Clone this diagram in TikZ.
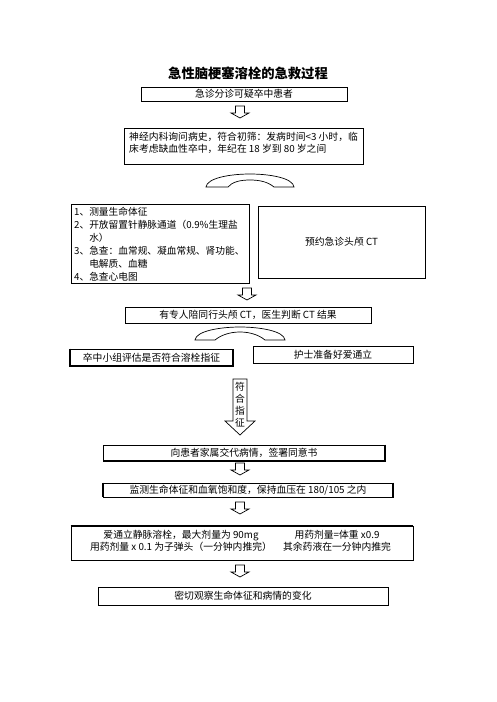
\documentclass[tikz,border=0pt]{standalone}
\usepackage{fontspec}
\setmainfont{Noto Sans CJK SC}
\usepackage{tikz}

\begin{document}
\begin{tikzpicture}[x=1pt,y=-1pt,
  box/.style={draw,line width=0.7pt,inner sep=0pt,font=\fontsize{9.8}{12}\selectfont},
  txt/.style={inner sep=0pt,font=\fontsize{9.8}{12}\selectfont},
  heavy/.style={line width=1.8pt},
  hollow arrow/.pic={\draw[line width=0.7pt] (-4.5,0) -- (4.5,0) -- (4.5,7) -- (9,7) -- (0,12) -- (-9,7) -- (-4.5,7) -- cycle;},
  arch/.style={draw,line width=0.7pt}]
\useasboundingbox (0,0) rectangle (496,702);

\node[font=\fontsize{13.3}{15}\selectfont\bfseries] (title) at (248,73) {急性脑梗塞溶栓的急救过程};

\node[box,minimum width=206,minimum height=14] (b1) at (244,94) {急诊分诊可疑卒中患者};
\pic at (240,106) {hollow arrow};

\node[box,minimum width=239,minimum height=36] (b2) at (243.5,146) {};
\node[txt,anchor=north west,align=left] (t2) at (129,132) {神经内科询问病史，符合初筛：发病时间<3 小时，临\\床考虑缺血性卒中，年纪在 18 岁到 80 岁之间};

% arch between the rows
\draw[arch] (206,187) .. controls (207,178) and (230,174) .. (250,174)
  .. controls (270,174) and (293,178) .. (294,187) -- (274,187)
  .. controls (268,182) and (260,180) .. (250,180)
  .. controls (240,180) and (232,182) .. (228,187) -- cycle;

\node[box,minimum width=178,minimum height=79] (b3) at (160,243.5) {};
\node[txt,anchor=west,align=left,font=\fontsize{9.7}{13}\selectfont] (t3) at (74,244.5) {1、测量生命体征\\2、开放留置针静脉通道（0.9\%生理盐\\\phantom{2、}水）\\3、急查：血常规、凝血常规、肾功能、\\\phantom{3、}电解质、血糖\\4、急查心电图};
\node[box,minimum width=167,minimum height=72] (b4) at (341.5,242) {预约急诊头颅 CT};
\pic at (247,288) {hollow arrow};

\node[box,minimum width=246,minimum height=16] (b5) at (248,315) {有专人陪同行头颅 CT，医生判断 CT 结果};

\draw[arch] (195,340) .. controls (196,331) and (220,327) .. (240,327)
  .. controls (260,327) and (284,331) .. (285,340) -- (265,340)
  .. controls (259,335) and (250,332) .. (240,332)
  .. controls (230,332) and (221,335) .. (215,340) -- cycle;

\node[box,minimum width=163,minimum height=17] (b6) at (151.5,357.5) {卒中小组评估是否符合溶栓指征};
\draw[heavy] (b6.north west) -- (b6.south west) -- (b6.south east) -- (b6.north east);
\node[box,minimum width=160,minimum height=17] (b7) at (333,354.5) {护士准备好爱通立};

% big arrow with text
\draw[line width=0.7pt] (233,379) -- (247,379) -- (247,421) -- (255,421) -- (240,435) -- (225,421) -- (233,421) -- cycle;
\node[txt,align=center] (t6) at (240,405) {符\\合\\指\\征};

\node[box,minimum width=282,minimum height=16] (b8) at (244,453) {向患者家属交代病情，签署同意书};
\draw[heavy] (b8.north east) -- (b8.south east) -- (b8.south west);
\pic at (240,463) {hollow arrow};

\node[box,minimum width=290,minimum height=14] (b9) at (248,490) {监测生命体征和血氧饱和度，保持血压在 180/105 之内};
\draw[heavy] (b9.north west) -- (b9.south west);
\draw[heavy] (b9.north east) -- (b9.south east);
\pic at (240,502) {hollow arrow};

\node[box,minimum width=342,minimum height=34] (b10) at (242,543) {};
\draw[heavy] (b10.north west) -- (b10.north east);
\node[txt,align=center] (c1) at (181,541) {爱通立静脉溶栓，最大剂量为 90mg\\用药剂量 x 0.1 为子弹头（一分钟内推完）};
\node[txt,align=center] (c2) at (337,541) {用药剂量=体重 x0.9\\其余药液在一分钟内推完};
\pic at (240,565) {hollow arrow};

\node[box,minimum width=290,minimum height=18] (b11) at (243,596) {密切观察生命体征和病情的变化};
\end{tikzpicture}
\end{document}
